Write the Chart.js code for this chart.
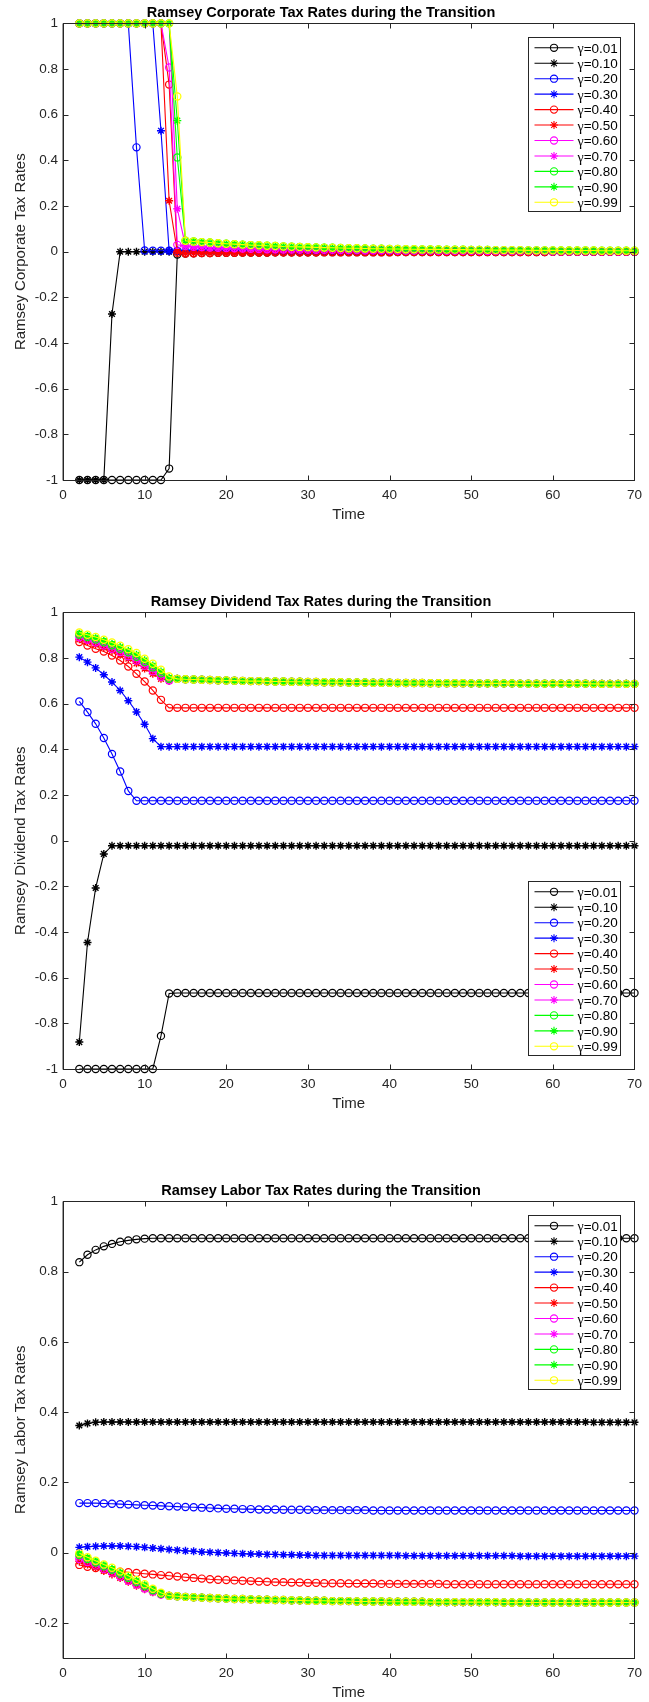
<!DOCTYPE html>
<html>
<head>
<meta charset="utf-8">
<title>Ramsey Tax Rates during the Transition</title>
<script src="https://cdn.jsdelivr.net/npm/chart.js@4.4.1/dist/chart.umd.min.js"></script>
<style>
  html, body { margin: 0; padding: 0; background: #fff; overflow: hidden; }
  .plot { position: absolute; left: 0; width: 649px; height: 524px; }
</style>
</head>
<body>
<div class="plot" style="top:0px"><canvas id="corpChart"></canvas></div>
<div class="plot" style="top:589px"><canvas id="divChart"></canvas></div>
<div class="plot" style="top:1178px"><canvas id="laborChart"></canvas></div>
<script>
"use strict";

// Time periods (x values)
var time = [2,3,4,5,6,7,8,9,10,11,12,13,14,15,16,17,18,19,20,21,22,23,24,25,26,27,28,29,30,
    31,32,33,34,35,36,37,38,39,40,41,42,43,44,45,46,47,48,49,50,51,52,53,54,55,56,57,58,59,60,
    61,62,63,64,65,66,67,68,69,70];

var xTicks = [0, 10, 20, 30, 40, 50, 60, 70];
var yTicksFull = [-1, -0.8, -0.6, -0.4, -0.2, 0, 0.2, 0.4, 0.6, 0.8, 1];
var yTicksLabor = [-0.2, 0, 0.2, 0.4, 0.6, 0.8, 1];

var gammaLabels = ["0.01", "0.10", "0.20", "0.30", "0.40", "0.50", "0.60", "0.70", "0.80", "0.90", "0.99"];
var seriesColors = ["#000000", "#000000", "#0000ff", "#0000ff", "#ff0000", "#ff0000",
    "#ff00ff", "#ff00ff", "#00ff00", "#00ff00", "#ffff00"];
var seriesMarkers = ["circle", "star", "circle", "star", "circle", "star",
    "circle", "star", "circle", "star", "circle"];

// ---- Corporate tax rates: t = 2..14
var corpHead001 = [-1,-1,-1,-1,-1,-1,-1,-1,-1,-1,-1,-0.95,-0.012];
var corpHead010 = [-1,-1,-1,-1,-0.273,0,0,0,0,0,0,0,0];
var corpHead020 = [1,1,1,1,1,1,1,0.457,0.005,0.004,0.004,0.004,0.004];
var corpHead030 = [1,1,1,1,1,1,1,1,1,1,0.53,0.004,0.004];
var corpHead040 = [1,1,1,1,1,1,1,1,1,1,1,0.732,-0.005];
var corpHead050 = [1,1,1,1,1,1,1,1,1,1,1,0.223,0];
var corpHead060 = [1,1,1,1,1,1,1,1,1,1,1,0.807,0.03];
var corpHead070 = [1,1,1,1,1,1,1,1,1,1,1,1,0.188];
var corpHead080 = [1,1,1,1,1,1,1,1,1,1,1,1,0.413];
var corpHead090 = [1,1,1,1,1,1,1,1,1,1,1,1,0.574];
var corpHead099 = [1,1,1,1,1,1,1,1,1,1,1,1,0.68];

// ---- Corporate tax rates: t = 15..70
var corpTailHigh = [0.048,0.045,0.042,0.040,0.037,0.035,0.033,0.031,0.029,0.028,
    0.026,0.025,0.023,0.022,0.021,0.020,0.019,0.018,0.017,0.016,
    0.015,0.015,0.014,0.013,0.013,0.012,0.012,0.011,0.011,0.010,
    0.010,0.010,0.009,0.009,0.009,0.008,0.008,0.008,0.007,0.007,
    0.007,0.007,0.006,0.006,0.006,0.006,0.005,0.005,0.005,0.005,
    0.005,0.004,0.004,0.004,0.004,0.004];
var corpTailMid = [0.025,0.022,0.020,0.018,0.017,0.016,0.015,0.014,0.013,0.012,
    0.011,0.011,0.010,0.010,0.009,0.009,0.008,0.008,0.008,0.007,
    0.007,0.007,0.006,0.006,0.006,0.006,0.005,0.005,0.005,0.005,
    0.005,0.004,0.004,0.004,0.004,0.004,0.004,0.003,0.003,0.003,
    0.003,0.003,0.003,0.003,0.003,0.002,0.002,0.002,0.002,0.002,
    0.002,0.002,0.002,0.002,0.002,0.002];
var corpTailLow = [0.004,0.004,0.004,0.004,0.004,0.004,0.004,0.004,0.004,0.004,
    0.003,0.003,0.003,0.003,0.003,0.003,0.003,0.003,0.003,0.003,
    0.003,0.003,0.003,0.003,0.003,0.003,0.003,0.003,0.003,0.003,
    0.002,0.002,0.002,0.002,0.002,0.002,0.002,0.002,0.002,0.002,
    0.002,0.002,0.002,0.002,0.002,0.002,0.002,0.002,0.002,0.002,
    0.001,0.001,0.001,0.001,0.001,0.001];
var corpTailNeg = [-0.008,-0.007,-0.006,-0.006,-0.005,-0.005,-0.005,-0.004,-0.004,-0.004,
    -0.004,-0.003,-0.003,-0.003,-0.003,-0.003,-0.003,-0.002,-0.002,-0.002,
    -0.002,-0.002,-0.002,-0.002,-0.002,-0.002,-0.001,-0.001,-0.001,-0.001,
    -0.001,-0.001,-0.001,-0.001,-0.001,-0.001,-0.001,-0.001,-0.001,-0.001,
    -0.001,-0.001,-0.001,-0.001,-0.001,0,0,0,0,0,
    0,0,0,0,0,0];

// ---- Dividend tax rates
var divHead001 = [-1,-1,-1,-1,-1,-1,-1,-1,-1,-1,-0.855,-0.669];
var divFlat001 = [-0.667,-0.667,-0.667,-0.667,-0.667,-0.667,-0.667,-0.667,-0.667,-0.667,
    -0.667,-0.667,-0.667,-0.667,-0.667,-0.667,-0.667,-0.667,-0.667,-0.667,
    -0.667,-0.667,-0.667,-0.667,-0.667,-0.667,-0.667,-0.667,-0.667,-0.667,
    -0.667,-0.667,-0.667,-0.667,-0.667,-0.667,-0.667,-0.667,-0.667,-0.667,
    -0.667,-0.667,-0.667,-0.667,-0.667,-0.667,-0.667,-0.667,-0.667,-0.667,
    -0.667,-0.667,-0.667,-0.667,-0.667,-0.667,-0.667];
var divHead010 = [-0.882,-0.446,-0.207,-0.058];
var divFlat010 = [-0.022,-0.022,-0.022,-0.022,-0.022,-0.022,-0.022,-0.022,-0.022,-0.022,
    -0.022,-0.022,-0.022,-0.022,-0.022,-0.022,-0.022,-0.022,-0.022,-0.022,
    -0.022,-0.022,-0.022,-0.022,-0.022,-0.022,-0.022,-0.022,-0.022,-0.022,
    -0.022,-0.022,-0.022,-0.022,-0.022,-0.022,-0.022,-0.022,-0.022,-0.022,
    -0.022,-0.022,-0.022,-0.022,-0.022,-0.022,-0.022,-0.022,-0.022,-0.022,
    -0.022,-0.022,-0.022,-0.022,-0.022,-0.022,-0.022,-0.022,-0.022,-0.022,
    -0.022,-0.022,-0.022,-0.022,-0.022];
var divHead020 = [0.61,0.563,0.512,0.45,0.38,0.303,0.218];
var divFlat020 = [0.175,0.175,0.175,0.175,0.175,0.175,0.175,0.175,0.175,0.175,
    0.175,0.175,0.175,0.175,0.175,0.175,0.175,0.175,0.175,0.175,
    0.175,0.175,0.175,0.175,0.175,0.175,0.175,0.175,0.175,0.175,
    0.175,0.175,0.175,0.175,0.175,0.175,0.175,0.175,0.175,0.175,
    0.175,0.175,0.175,0.175,0.175,0.175,0.175,0.175,0.175,0.175,
    0.175,0.175,0.175,0.175,0.175,0.175,0.175,0.175,0.175,0.175,
    0.175,0.175];
var divHead030 = [0.804,0.782,0.757,0.727,0.695,0.658,0.613,0.564,0.51,0.447];
var divFlat030 = [0.412,0.412,0.412,0.412,0.412,0.412,0.412,0.412,0.412,0.412,
    0.412,0.412,0.412,0.412,0.412,0.412,0.412,0.412,0.412,0.412,
    0.412,0.412,0.412,0.412,0.412,0.412,0.412,0.412,0.412,0.412,
    0.412,0.412,0.412,0.412,0.412,0.412,0.412,0.412,0.412,0.412,
    0.412,0.412,0.412,0.412,0.412,0.412,0.412,0.412,0.412,0.412,
    0.412,0.412,0.412,0.412,0.412,0.412,0.412,0.412,0.412];
var divHead040 = [0.87,0.855,0.841,0.829,0.811,0.789,0.763,0.731,0.697,0.658,0.617];
var divFlat040 = [0.582,0.582,0.582,0.582,0.582,0.582,0.582,0.582,0.582,0.582,
    0.582,0.582,0.582,0.582,0.582,0.582,0.582,0.582,0.582,0.582,
    0.582,0.582,0.582,0.582,0.582,0.582,0.582,0.582,0.582,0.582,
    0.582,0.582,0.582,0.582,0.582,0.582,0.582,0.582,0.582,0.582,
    0.582,0.582,0.582,0.582,0.582,0.582,0.582,0.582,0.582,0.582,
    0.582,0.582,0.582,0.582,0.582,0.582,0.582,0.582];
// t = 2..13 for the upper group
var divHead050 = [0.882,0.871,0.859,0.846,0.831,0.815,0.797,0.777,0.754,0.731,0.709,0.700];
var divHead060 = [0.891,0.880,0.868,0.855,0.841,0.826,0.808,0.789,0.766,0.742,0.718,0.702];
var divHead070 = [0.896,0.885,0.874,0.862,0.848,0.833,0.816,0.797,0.774,0.750,0.725,0.705];
var divHead080 = [0.902,0.892,0.881,0.869,0.856,0.841,0.825,0.806,0.783,0.759,0.733,0.709];
var divHead090 = [0.907,0.897,0.887,0.875,0.862,0.848,0.832,0.814,0.790,0.767,0.741,0.714];
var divHead099 = [0.912,0.902,0.892,0.880,0.868,0.854,0.839,0.822,0.797,0.775,0.749,0.719];
// t = 14..70
var divTailTop = [0.709,0.707,0.706,0.705,0.704,0.703,0.702,0.701,0.700,0.699,
    0.699,0.698,0.697,0.697,0.696,0.696,0.695,0.695,0.694,0.694,
    0.694,0.693,0.693,0.693,0.692,0.692,0.692,0.691,0.691,0.691,
    0.691,0.690,0.690,0.690,0.690,0.690,0.689,0.689,0.689,0.689,
    0.689,0.689,0.688,0.688,0.688,0.688,0.688,0.688,0.688,0.688,
    0.688,0.687,0.687,0.687,0.687,0.687,0.687];

// ---- Labor tax rates
var labHead001 = [0.827,0.848,0.862,0.872,0.879,0.885,0.889,0.892,0.894];
var labFlat001 = [0.895,0.895,0.895,0.895,0.895,0.895,0.895,0.895,0.895,0.895,
    0.895,0.895,0.895,0.895,0.895,0.895,0.895,0.895,0.895,0.895,
    0.895,0.895,0.895,0.895,0.895,0.895,0.895,0.895,0.895,0.895,
    0.895,0.895,0.895,0.895,0.895,0.895,0.895,0.895,0.895,0.895,
    0.895,0.895,0.895,0.895,0.895,0.895,0.895,0.895,0.895,0.895,
    0.895,0.895,0.895,0.895,0.895,0.895,0.895,0.895,0.895,0.895];
var labHead010 = [0.362,0.368,0.371];
var labFlat010 = [0.372,0.372,0.372,0.372,0.372,0.372,0.372,0.372,0.372,0.372,
    0.372,0.372,0.372,0.372,0.372,0.372,0.372,0.372,0.372,0.372,
    0.372,0.372,0.372,0.372,0.372,0.372,0.372,0.372,0.372,0.372,
    0.372,0.372,0.372,0.372,0.372,0.372,0.372,0.372,0.372,0.372,
    0.372,0.372,0.372,0.372,0.372,0.372,0.372,0.372,0.372,0.372,
    0.372,0.372,0.372,0.372,0.372,0.372,0.372,0.372,0.372,0.372,
    0.371,0.371,0.371,0.371,0.371,0.371];
var lab020 = [0.141,0.141,0.141,0.140,0.139,0.138,0.137,0.136,0.135,0.134,
    0.133,0.132,0.131,0.130,0.129,0.128,0.127,0.126,0.125,0.125,
    0.124,0.124,0.123,0.123,0.123,0.122,0.122,0.122,0.122,0.121,
    0.121,0.121,0.121,0.121,0.121,0.121,0.120,0.120,0.120,0.120,
    0.120,0.120,0.120,0.120,0.120,0.120,0.120,0.120,0.120,0.120,
    0.120,0.120,0.120,0.120,0.120,0.120,0.120,0.120,0.120,0.120,
    0.120,0.120,0.120,0.120,0.120,0.120,0.120,0.120,0.120];
var lab030 = [0.015,0.017,0.018,0.019,0.019,0.019,0.018,0.017,0.015,0.013,
    0.011,0.009,0.007,0.005,0.004,0.002,0.001,0.000,-0.001,-0.002,
    -0.003,-0.004,-0.004,-0.005,-0.005,-0.006,-0.006,-0.007,-0.007,-0.008,
    -0.008,-0.008,-0.008,-0.008,-0.008,-0.008,-0.008,-0.008,-0.008,-0.008,
    -0.009,-0.009,-0.009,-0.009,-0.009,-0.009,-0.009,-0.009,-0.009,-0.009,
    -0.009,-0.009,-0.009,-0.009,-0.010,-0.010,-0.010,-0.010,-0.010,-0.010,
    -0.010,-0.010,-0.010,-0.010,-0.010,-0.010,-0.010,-0.010,-0.010];
var lab040 = [-0.035,-0.040,-0.044,-0.048,-0.051,-0.054,-0.056,-0.058,-0.060,-0.062,
    -0.064,-0.066,-0.068,-0.070,-0.072,-0.074,-0.076,-0.077,-0.078,-0.079,
    -0.080,-0.081,-0.082,-0.083,-0.084,-0.084,-0.085,-0.085,-0.086,-0.086,
    -0.087,-0.087,-0.087,-0.088,-0.088,-0.088,-0.088,-0.089,-0.089,-0.089,
    -0.089,-0.089,-0.089,-0.089,-0.089,-0.090,-0.090,-0.090,-0.090,-0.090,
    -0.090,-0.090,-0.090,-0.090,-0.090,-0.090,-0.090,-0.090,-0.090,-0.090,
    -0.090,-0.090,-0.090,-0.090,-0.090,-0.090,-0.090,-0.090,-0.090];
// t = 2..13 for the lower group
var labHead050 = [-0.025,-0.034,-0.043,-0.052,-0.062,-0.072,-0.083,-0.094,-0.104,-0.113,-0.120,-0.123];
var labHead060 = [-0.018,-0.027,-0.037,-0.047,-0.057,-0.068,-0.080,-0.091,-0.102,-0.111,-0.119,-0.123];
var labHead070 = [-0.012,-0.022,-0.032,-0.043,-0.053,-0.064,-0.076,-0.088,-0.099,-0.109,-0.118,-0.123];
var labHead080 = [-0.007,-0.018,-0.028,-0.039,-0.049,-0.060,-0.072,-0.084,-0.096,-0.107,-0.117,-0.123];
var labHead090 = [-0.004,-0.015,-0.025,-0.036,-0.046,-0.057,-0.069,-0.081,-0.093,-0.105,-0.115,-0.123];
var labHead099 = [-0.002,-0.013,-0.023,-0.034,-0.043,-0.054,-0.066,-0.078,-0.090,-0.103,-0.114,-0.1225];
// t = 14..70
var labTailLow = [-0.124,-0.126,-0.127,-0.128,-0.129,-0.130,-0.131,-0.132,-0.132,-0.133,
    -0.134,-0.134,-0.135,-0.135,-0.136,-0.136,-0.137,-0.137,-0.137,-0.138,
    -0.138,-0.138,-0.139,-0.139,-0.139,-0.139,-0.140,-0.140,-0.140,-0.140,
    -0.140,-0.141,-0.141,-0.141,-0.141,-0.141,-0.141,-0.141,-0.141,-0.141,
    -0.142,-0.142,-0.142,-0.142,-0.142,-0.142,-0.142,-0.142,-0.142,-0.142,
    -0.142,-0.142,-0.142,-0.142,-0.142,-0.142,-0.142];

var corpSeries = [
    corpHead001.concat(corpTailNeg), corpHead010.concat(corpTailLow),
    corpHead020.concat(corpTailLow), corpHead030.concat(corpTailLow),
    corpHead040.concat(corpTailNeg), corpHead050.concat(corpTailNeg),
    corpHead060.concat(corpTailMid), corpHead070.concat(corpTailMid),
    corpHead080.concat(corpTailHigh), corpHead090.concat(corpTailHigh),
    corpHead099.concat(corpTailHigh)
];
var divSeries = [
    divHead001.concat(divFlat001), divHead010.concat(divFlat010),
    divHead020.concat(divFlat020), divHead030.concat(divFlat030),
    divHead040.concat(divFlat040), divHead050.concat(divTailTop),
    divHead060.concat(divTailTop), divHead070.concat(divTailTop),
    divHead080.concat(divTailTop), divHead090.concat(divTailTop),
    divHead099.concat(divTailTop)
];
var labSeries = [
    labHead001.concat(labFlat001), labHead010.concat(labFlat010),
    lab020, lab030, lab040,
    labHead050.concat(labTailLow), labHead060.concat(labTailLow),
    labHead070.concat(labTailLow), labHead080.concat(labTailLow),
    labHead090.concat(labTailLow), labHead099.concat(labTailLow)
];

Chart.defaults.font.family = '"Liberation Sans", Arial, Helvetica, sans-serif';
Chart.defaults.color = "#262626";

function markerRadius(style) {
    return style === "circle" ? 3.6 : 4;
}

function makeDatasets(seriesList) {
    return seriesList.map(function(values, i) {
        return {
            label: "\u03b3=" + gammaLabels[i],
            data: values.map(function(v, j) { return { x: time[j], y: v }; }),
            borderColor: seriesColors[i],
            backgroundColor: "rgba(0,0,0,0)",
            borderWidth: 1.1,
            pointStyle: seriesMarkers[i],
            pointRadius: markerRadius(seriesMarkers[i]),
            pointBorderColor: seriesColors[i],
            pointBackgroundColor: "rgba(0,0,0,0)",
            pointBorderWidth: seriesMarkers[i] === "circle" ? 1.2 : 1.4,
            tension: 0,
            clip: false,
            order: seriesList.length - i
        };
    });
}

// Box round the axes with inward ticks on all four sides
var axesFramePlugin = {
    id: "axesFrame",
    afterDatasetsDraw: function(chart, args, opts) {
        var ctx = chart.ctx;
        var a = chart.chartArea;
        var xs = chart.scales.x;
        var ys = chart.scales.y;
        var l = Math.round(a.left) + 0.5, r = Math.round(a.right) + 0.5;
        var t = Math.round(a.top) + 0.5, b = Math.round(a.bottom) + 0.5;
        ctx.save();
        ctx.strokeStyle = "#262626";
        ctx.lineWidth = 1;
        ctx.strokeRect(l, t, r - l, b - t);
        ctx.beginPath();
        xTicks.forEach(function(v) {
            var px = Math.round(xs.getPixelForValue(v)) + 0.5;
            ctx.moveTo(px, b); ctx.lineTo(px, b - 5);
            ctx.moveTo(px, t); ctx.lineTo(px, t + 5);
        });
        opts.yTicks.forEach(function(v) {
            var py = Math.round(ys.getPixelForValue(v)) + 0.5;
            ctx.moveTo(l, py); ctx.lineTo(l + 5, py);
            ctx.moveTo(r, py); ctx.lineTo(r - 5, py);
        });
        ctx.stroke();
        // left axis looks a little heavier in the original
        ctx.strokeStyle = "rgba(38,38,38,0.45)";
        ctx.beginPath();
        ctx.moveTo(l - 1, t);
        ctx.lineTo(l - 1, b);
        ctx.stroke();
        ctx.restore();
    }
};

// Legend drawn inside the axes, top right or bottom right
var insideLegendPlugin = {
    id: "insideLegend",
    afterDraw: function(chart, args, opts) {
        var ctx = chart.ctx;
        var a = chart.chartArea;
        var boxW = 92, boxH = 174, rowH = 15.45;
        var x0 = Math.round(a.right - 14 - boxW) + 0.5;
        var y0 = Math.round(opts.corner === "top" ? a.top + 13.5 : a.bottom - 14 - boxH) + 0.5;
        ctx.save();
        ctx.fillStyle = "#ffffff";
        ctx.fillRect(x0, y0, boxW, boxH);
        ctx.strokeStyle = "#262626";
        ctx.lineWidth = 1;
        ctx.strokeRect(x0, y0, boxW, boxH);

        chart.data.datasets.forEach(function(ds, i) {
            var cy = y0 + 10.3 + i * rowH;
            ctx.strokeStyle = ds.borderColor;
            ctx.lineWidth = 1.1;
            ctx.beginPath();
            ctx.moveTo(x0 + 6, cy);
            ctx.lineTo(x0 + 45, cy);
            ctx.stroke();
            ctx.fillStyle = "rgba(0,0,0,0)";
            Chart.helpers.drawPoint(ctx, {
                pointStyle: ds.pointStyle,
                radius: ds.pointRadius,
                borderWidth: ds.pointBorderWidth,
                rotation: 0
            }, x0 + 25.5, cy);

            ctx.fillStyle = "#000000";
            ctx.textBaseline = "middle";
            ctx.textAlign = "left";
            ctx.font = '14px "Liberation Serif", "DejaVu Serif", serif';
            var tx = x0 + 49;
            ctx.fillText("\u03b3", tx, cy + 2);
            tx += ctx.measureText("\u03b3").width;
            ctx.font = '13.5px "Liberation Sans", Arial, sans-serif';
            ctx.fillText("=" + gammaLabels[i], tx, cy + 1);
        });
        ctx.restore();
    }
};

function formatTick(v) {
    return String(Math.round(v * 10) / 10);
}

function createPanel(elem, title, yLabel, seriesList, yMin, yTicks, legendCorner) {
    var config = {
        type: "line",
        data: {
            datasets: makeDatasets(seriesList)
        },
        options: {
            responsive: true,
            maintainAspectRatio: false,
            animation: false,
            devicePixelRatio: 1,
            layout: {
                padding: { top: 0, left: 0, right: 7, bottom: 0 }
            },
            plugins: {
                legend: { display: false },
                tooltip: { enabled: false },
                title: {
                    display: true,
                    text: title,
                    color: "#000000",
                    font: { size: 14.5, weight: "bold" },
                    padding: { top: 4, bottom: 2 }
                },
                axesFrame: { yTicks: yTicks },
                insideLegend: { corner: legendCorner }
            },
            scales: {
                x: {
                    type: "linear",
                    min: 0,
                    max: 70,
                    afterBuildTicks: function(scale) {
                        scale.ticks = xTicks.map(function(v) { return { value: v }; });
                    },
                    afterFit: function(scale) { scale.height = 44; },
                    grid: { display: false, drawTicks: false },
                    border: { display: false },
                    ticks: {
                        padding: 7,
                        maxRotation: 0,
                        autoSkip: false,
                        color: "#262626",
                        font: { size: 13.5 }
                    },
                    title: {
                        display: true,
                        text: "Time",
                        color: "#262626",
                        font: { size: 15 },
                        padding: { top: 0, bottom: 0 }
                    }
                },
                y: {
                    type: "linear",
                    min: yMin,
                    max: 1,
                    afterBuildTicks: function(scale) {
                        scale.ticks = yTicks.map(function(v) { return { value: v }; });
                    },
                    afterFit: function(scale) { scale.width = 63; },
                    grid: { display: false, drawTicks: false },
                    border: { display: false },
                    ticks: {
                        padding: 5,
                        autoSkip: false,
                        color: "#262626",
                        font: { size: 13.5 },
                        callback: formatTick
                    },
                    title: {
                        display: true,
                        text: yLabel,
                        color: "#262626",
                        font: { size: 15 },
                        padding: { top: 12, bottom: 0 }
                    }
                }
            }
        },
        plugins: [axesFramePlugin, insideLegendPlugin]
    };

    return new Chart(document.getElementById(elem), config);
}

createPanel("corpChart", "Ramsey Corporate Tax Rates during the Transition",
    "Ramsey Corporate Tax Rates", corpSeries, -1, yTicksFull, "top");
createPanel("divChart", "Ramsey Dividend Tax Rates during the Transition",
    "Ramsey Dividend Tax Rates", divSeries, -1, yTicksFull, "bottom");
createPanel("laborChart", "Ramsey Labor Tax Rates during the Transition",
    "Ramsey Labor Tax Rates", labSeries, -0.3, yTicksLabor, "top");
</script>
</body>
</html>
